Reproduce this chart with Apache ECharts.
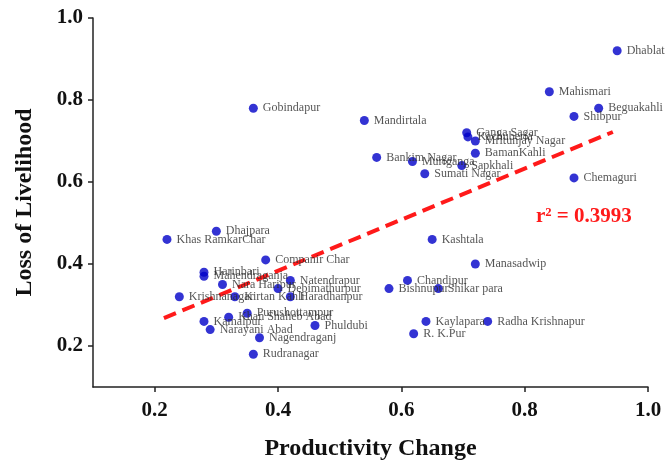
<!DOCTYPE html>
<html>
<head>
<meta charset="utf-8">
<script src="https://cdn.jsdelivr.net/npm/echarts@6/dist/echarts.min.js"></script>
<style>html,body{margin:0;padding:0;background:#fff;}#c{width:665px;height:467px;}</style>
</head>
<body>
<div id="c"></div>
<script>
var names = ["Dhablat","Mahismari","Beguakahli","Shibpur","Gobindapur","Mandirtala","Ganga Sagar","Kachuberia","Mritunjay Nagar","BamanKahli","Bankim Nagar","Muriganga","Sapkhali","Sumati Nagar","Chemaguri","Dhajpara","Khas RamkarChar","Companir Char","Harinbari","Mahendraganja","Nara Haripur","Natendrapur","Debimathurpur","Krishnanagar","Kirtan Kahli","Haradhanpur","Purushottampur","Khan Shaheb Abad","Kamalpur","Narayani Abad","Phuldubi","Nagendraganj","Rudranagar","Kashtala","Manasadwip","Chandipur","Bishnupur","Shikar para","Kaylapara","Radha Krishnapur","R. K.Pur"];
var productivity = [0.95,0.84,0.92,0.88,0.36,0.54,0.706,0.708,0.72,0.72,0.56,0.618,0.698,0.638,0.88,0.30,0.22,0.38,0.28,0.28,0.31,0.42,0.40,0.24,0.33,0.42,0.35,0.32,0.28,0.29,0.46,0.37,0.36,0.65,0.72,0.61,0.58,0.66,0.64,0.74,0.62];
var livelihood = [0.92,0.82,0.78,0.76,0.78,0.75,0.72,0.71,0.70,0.67,0.66,0.65,0.64,0.62,0.61,0.48,0.46,0.41,0.38,0.37,0.35,0.36,0.34,0.32,0.32,0.32,0.28,0.27,0.26,0.24,0.25,0.22,0.18,0.46,0.40,0.36,0.34,0.34,0.26,0.26,0.23];
var trendX = [0.215, 0.943];
var trendY = [0.268, 0.722];
var tickValues = [0.2, 0.4, 0.6, 0.8, 1.0];
var r2Text = "r\u00b2 = 0.3993";

var serif = "'Liberation Serif','Times New Roman',serif";
var pts = names.map(function(n, i){ return {name: n, value: [productivity[i], livelihood[i]]}; });
var trend = trendX.map(function(x, i){ return [x, trendY[i]]; });

var chart = echarts.init(document.getElementById('c'), null, {renderer: 'canvas'});
var axisCommon = {
  type: 'value', min: 0.1, max: 1.0,
  splitLine: {show: false},
  axisLine: {show: true, lineStyle: {color: '#222', width: 1.5}},
  axisTick: {show: true, inside: false, length: 5, customValues: tickValues, lineStyle: {color: '#222', width: 1.5}},
  axisLabel: {customValues: tickValues, fontFamily: serif, fontWeight: 'bold', fontSize: 21, color: '#111',
    formatter: function(v){ return v.toFixed(1); }},
  nameLocation: 'middle',
  nameTextStyle: {fontFamily: serif, fontWeight: 'bold', fontSize: 24, color: '#111'}
};
chart.setOption({
  animation: false,
  backgroundColor: '#fff',
  grid: {left: 93, right: 17, top: 18, bottom: 80},
  xAxis: Object.assign({}, axisCommon, {
    name: 'Productivity Change', nameGap: 50,
    axisLabel: Object.assign({}, axisCommon.axisLabel, {margin: 13})
  }),
  yAxis: Object.assign({}, axisCommon, {
    name: 'Loss of Livelihood', nameGap: 56,
    axisLabel: Object.assign({}, axisCommon.axisLabel, {margin: 10})
  }),
  graphic: [{
    type: 'text', left: 536, top: 206,
    style: {text: r2Text, fill: '#ff1a1a', font: 'bold 21px ' + serif}
  }],
  series: [
    {
      type: 'line', data: trend, symbol: 'none', z: 3,
      lineStyle: {color: '#ff1a1a', width: 4, type: [13, 7]}
    },
    {
      type: 'scatter', data: pts, symbolSize: 9, z: 4,
      itemStyle: {color: '#0000c8'},
      label: {show: true, position: 'right', distance: 5, formatter: '{b}',
        fontFamily: serif, fontSize: 12, color: '#2a2a2a'}
    }
  ]
});
</script>
</body>
</html>
